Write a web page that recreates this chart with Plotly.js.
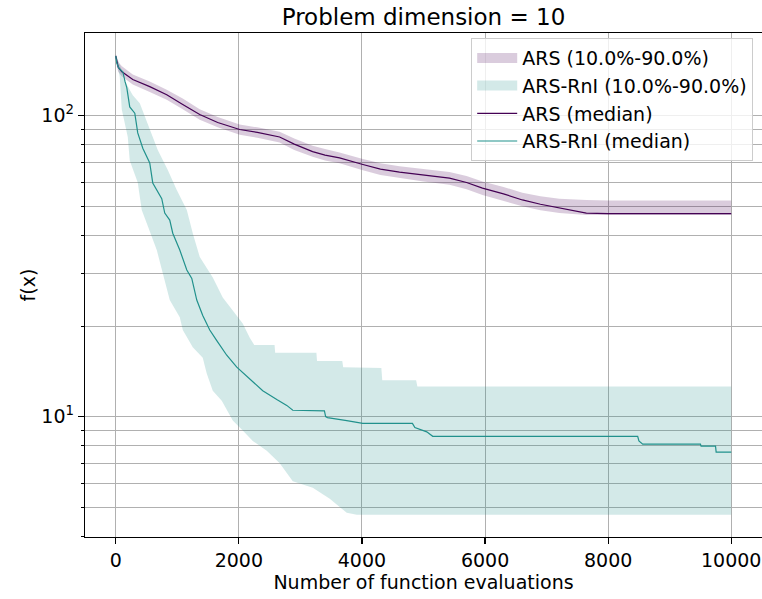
<!DOCTYPE html>
<html>
<head>
<meta charset="utf-8">
<script src="https://cdn.plot.ly/plotly-3.0.1.min.js"></script>
<style>html,body{margin:0;padding:0;background:#fff;}#chart{width:762px;height:599px;}</style>
</head>
<body>
<div id="chart"></div>
<script>
// ARS: shared evaluation grid
const arsX = [0, 20, 40, 100, 276, 552, 828, 1088, 1364, 1656, 2013, 2300, 2662, 2900, 3198, 3400, 3636, 4000, 4300, 4610, 5000, 5422, 5700, 5958, 6300, 6607, 6900, 7208, 7646, 8000, 10000];
const arsMedian = [158, 150, 145, 140, 132, 125, 117.5, 109, 101, 95, 90, 88, 85, 80.5, 76, 74, 72.4, 69, 66.5, 65, 63.5, 62, 60, 57.5, 55, 52.5, 50.8, 49.3, 47.5, 47.3, 47.3];
const arsUpper = [160, 156, 151, 146, 137, 130, 122, 114, 105, 99, 93.5, 91.5, 88.5, 84, 79.5, 77.5, 75.5, 72, 69.5, 68, 66.5, 65, 63, 60.5, 58, 55.5, 54, 53, 52.5, 52.3, 52.3];
const arsLower = [156, 145, 140, 135, 127, 120, 113, 105, 97, 91.5, 86.5, 84.5, 81.5, 77, 73, 71, 69.5, 66, 63.5, 62, 60.5, 59, 57, 54.5, 52, 50, 48.5, 47.5, 46.8, 46.8, 46.8];

// ARS-RnI median
const rniMedX = [0, 15, 49, 114, 150, 179, 227, 309, 357, 439, 552, 601, 747, 796, 877, 926, 1040, 1154, 1235, 1316, 1413, 1527, 1641, 1803, 1966, 2210, 2388, 2616, 2778, 2876, 3390, 3410, 3440, 3753, 4013, 4820, 4860, 5053, 5150, 8480, 8500, 8562, 9500, 9510, 9745, 9755, 10000];
const rniMedian = [158, 150, 144, 140, 130, 124, 107, 102, 87.7, 78, 69.7, 59.8, 53, 47.5, 45, 40.7, 35.8, 30.7, 28.8, 24.4, 21.7, 19.4, 17.9, 16, 14.6, 13.2, 12.2, 11.4, 10.9, 10.5, 10.45, 10.0, 9.93, 9.7, 9.5, 9.5, 9.2, 8.9, 8.6, 8.6, 8.3, 8.1, 8.1, 7.98, 7.98, 7.62, 7.62];

// ARS-RnI 90% edge
const rniUpX = [0, 97, 114, 276, 390, 552, 682, 845, 991, 1154, 1251, 1365, 1576, 1738, 1901, 2063, 2177, 2250, 2580, 2590, 3260, 3270, 3680, 3695, 4315, 4330, 4880, 4900, 10000];
const rniUpper = [160, 142, 134, 117, 110, 90, 77, 66, 56.7, 48.6, 40.7, 33.9, 29, 24.9, 22.6, 20.4, 18.3, 17.3, 17.3, 16.3, 16.3, 15.3, 15.3, 14.6, 14.5, 13.2, 13.2, 12.6, 12.6];

// ARS-RnI 10% edge
const rniLoX = [0, 65, 97, 195, 227, 357, 422, 520, 666, 763, 877, 1040, 1089, 1251, 1413, 1478, 1576, 1722, 1901, 2063, 2226, 2453, 2664, 2876, 3201, 3477, 3753, 3916, 10000];
const rniLower = [156, 134.5, 105, 85, 71, 60, 48.6, 43, 35.8, 30, 24.4, 21.4, 19.4, 17, 15.7, 13.9, 12.2, 11.3, 9.7, 9, 8.3, 7.7, 7, 6.1, 5.8, 5.33, 4.79, 4.72, 4.72];

const xTicks = [0, 2000, 4000, 6000, 8000, 10000];
const yMajor = [10, 100];
const yMajorText = ['10<sup>1</sup>', '10<sup>2</sup>'];
const yMinor = [4, 5, 6, 7, 8, 9, 20, 30, 40, 50, 60, 70, 80, 90];

const purple = '#440154', teal = '#21918c';
const purpleFill = 'rgba(68,1,84,0.2)', tealFill = 'rgba(33,145,140,0.2)';

function band(xu, yu, xl, yl) {
  return {x: xu.concat(xl.slice().reverse()), y: yu.concat(yl.slice().reverse())};
}
const arsBand = band(arsX, arsUpper, arsX, arsLower);
const rniBand = band(rniUpX, rniUpper, rniLoX, rniLower);

const traces = [
  {x: arsBand.x, y: arsBand.y, mode: 'lines', line: {width: 0}, fill: 'toself', fillcolor: purpleFill, showlegend: false},
  {x: rniBand.x, y: rniBand.y, mode: 'lines', line: {width: 0}, fill: 'toself', fillcolor: tealFill, showlegend: false},
  // legend swatches for the bands
  {x: [null], y: [null], mode: 'lines', line: {width: 14, color: purpleFill}, name: 'ARS (10.0%-90.0%)'},
  {x: [null], y: [null], mode: 'lines', line: {width: 14, color: tealFill}, name: 'ARS-RnI (10.0%-90.0%)'},
  {x: arsX, y: arsMedian, mode: 'lines', line: {width: 1.2, color: purple}, name: 'ARS (median)'},
  {x: rniMedX, y: rniMedian, mode: 'lines', line: {width: 1.2, color: teal}, name: 'ARS-RnI (median)'}
];

const font = {family: 'DejaVu Sans', size: 19, color: '#000'};
const layout = {
  width: 762, height: 599,
  margin: {l: 85, r: 0, t: 33, b: 62},
  paper_bgcolor: '#fff', plot_bgcolor: '#fff',
  font: font,
  title: {text: 'Problem dimension = 10', font: {family: 'DejaVu Sans', size: 23, color: '#000'},
          xref: 'paper', x: 0.5, xanchor: 'center', yref: 'container', y: 0.972, yanchor: 'middle'},
  xaxis: {
    range: [-500, 10500], tickvals: xTicks, ticktext: xTicks.map(String),
    ticks: 'outside', ticklen: 6, tickwidth: 1.2, tickcolor: '#000',
    showgrid: true, gridcolor: '#b0b0b0', gridwidth: 1, zeroline: false,
    showline: true, linecolor: '#000', linewidth: 1.2, mirror: true,
    title: {text: 'Number of function evaluations', font: font, standoff: 4},
    tickfont: font
  },
  yaxis: {
    type: 'log', range: [0.600, 2.275],
    tickmode: 'array', tickvals: yMajor, ticktext: yMajorText,
    ticks: 'outside', ticklen: 6, tickwidth: 1.2, tickcolor: '#000',
    showgrid: true, gridcolor: '#b0b0b0', gridwidth: 1, zeroline: false,
    showline: true, linecolor: '#000', linewidth: 1.2, mirror: true,
    minor: {tickmode: 'array', tickvals: yMinor, ticks: 'outside', ticklen: 3, tickcolor: '#000', tickwidth: 1,
            showgrid: true, gridcolor: '#b0b0b0', gridwidth: 1},
    title: {text: 'f(x)', font: font, standoff: 0},
    tickfont: font
  },
  legend: {
    x: 0.987, y: 0.99, xanchor: 'right', yanchor: 'top',
    bgcolor: 'rgba(255,255,255,0.8)', bordercolor: '#cccccc', borderwidth: 1,
    font: font, traceorder: 'normal', itemwidth: 40
  },
  showlegend: true
};

Plotly.newPlot('chart', traces, layout, {displayModeBar: false, staticPlot: true});
</script>
</body>
</html>
